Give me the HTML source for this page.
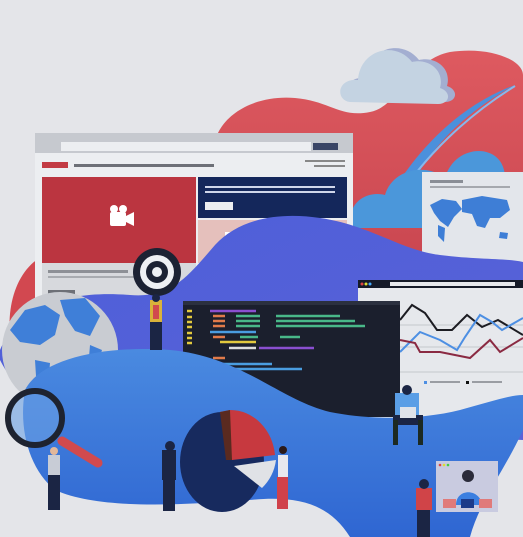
<!DOCTYPE html>
<html><head><style>html,body{margin:0;padding:0;background:#e4e5e9;}svg{display:block}</style></head><body>
<svg width="523" height="537" viewBox="0 0 523 537" xmlns="http://www.w3.org/2000/svg">
<defs>
<linearGradient id="bl" x1="0" y1="0" x2="1" y2="1"><stop offset="0" stop-color="#4d5fd9"/><stop offset="1" stop-color="#5a62d8"/></linearGradient>
<linearGradient id="bb" x1="0" y1="0" x2="0" y2="1"><stop offset="0" stop-color="#4a8ae0"/><stop offset="1" stop-color="#2f66d2"/></linearGradient>
<linearGradient id="rd" x1="0" y1="0" x2="0" y2="1"><stop offset="0" stop-color="#de5a60"/><stop offset="1" stop-color="#c94650"/></linearGradient>
</defs>
<rect width="523" height="537" fill="#e4e5e9"/>
<!-- red blob -->
<path d="M215 140 C225 110 260 95 295 98 C330 101 340 118 370 112 C400 106 410 60 450 52 C490 46 523 60 523 75 L523 270 L240 270 Z" fill="url(#rd)"/>
<path d="M45 255 C12 270 2 320 15 360 L60 360 L60 255 Z" fill="#d24850"/>
<!-- cloud -->
<g transform="translate(7,-2)"><path d="M350 102 C335 100 337 78 358 80 C360 50 395 40 412 62 C428 58 445 70 440 88 C452 92 450 104 438 104 Z" fill="#a3aed1"/></g>
<path d="M350 102 C335 100 337 78 358 80 C360 50 395 40 412 62 C428 58 445 70 440 88 C452 92 450 104 438 104 Z" fill="#c4d3e2"/>
<!-- swoosh -->
<path d="M385 205 C415 150 460 105 515 85 C465 112 425 150 402 205 Z" fill="#4b90dc"/>
<path d="M393 205 C425 155 468 115 515 86" stroke="#86b8ec" stroke-width="2" fill="none"/>
<!-- blue cloud -->
<path d="M352 228 C345 205 365 190 385 195 C392 170 425 162 445 178 C455 142 505 142 505 178 C520 182 523 200 523 228 Z" fill="#4b97da"/>
<!-- map panel -->
<rect x="422" y="172" width="101" height="90" fill="#e3e6eb"/>
<rect x="430" y="180" width="33" height="3" fill="#8a8e96"/><rect x="430" y="186" width="80" height="2" fill="#a5a8ae"/>
<path d="M430 205 l12 -6 14 2 6 8 -8 8 -6 10 -8 -6 -6 -8z M438 225 l7 3 -1 14 -6 -6z M462 200 l20 -4 25 4 3 10 -10 8 -10 0 -5 10 -8 -2 -5 -12 -10 -2z M500 232 l8 1 -1 6 -8 -1z" fill="#3e7ed6"/>
<!-- browser -->
<rect x="35" y="133" width="318" height="172" fill="#eceef1"/>
<rect x="35" y="133" width="318" height="20" fill="#c6c9cf"/>
<rect x="61" y="142" width="250" height="9" fill="#eceef1"/>
<rect x="313" y="143" width="25" height="7" fill="#3a4566"/>
<rect x="42" y="162" width="26" height="6" fill="#c23a43"/>
<rect x="74" y="164" width="140" height="3" fill="#6d7077"/>
<rect x="305" y="160" width="40" height="2" fill="#888"/><rect x="314" y="165" width="31" height="2" fill="#888"/>
<rect x="42" y="177" width="154" height="86" fill="#bb3540"/>
<rect x="110" y="212" width="16" height="14" rx="2" fill="#fff"/><path d="M126 216 l8 -4 v14 l-8 -4z" fill="#fff"/><circle cx="114" cy="209" r="4" fill="#fff"/><circle cx="123" cy="209" r="4" fill="#fff"/>
<rect x="42" y="263" width="154" height="42" fill="#d7d9dd"/>
<rect x="198" y="177" width="149" height="41" fill="#14275b"/>
<rect x="205" y="186" width="130" height="2" fill="#cfd6ea"/><rect x="205" y="191" width="130" height="2" fill="#cfd6ea"/><rect x="205" y="202" width="28" height="8" fill="#eceef1"/>
<rect x="198" y="220" width="74" height="43" fill="#e5c0bc"/>
<rect x="274" y="220" width="73" height="43" fill="#e5c0bc"/>
<rect x="226" y="233" width="22" height="17" fill="none" stroke="#fff" stroke-width="2"/>
<rect x="48" y="270" width="80" height="3" fill="#8d9096"/><rect x="48" y="276" width="120" height="2" fill="#a8abb0"/><rect x="48" y="290" width="27" height="8" fill="#6d7077"/>
<!-- purple-blue blob -->
<path d="M0 350 C20 305 70 290 130 295 C170 298 185 280 215 245 C240 218 280 212 320 218 C370 225 400 250 440 255 C480 260 505 258 523 262 L523 440 L300 430 L30 400 C15 385 5 370 0 360 Z" fill="url(#bl)"/>
<!-- chart panel -->
<path d="M358 280 H523 V400 C490 410 460 418 430 420 H358 Z" fill="#e6e8ec"/>
<rect x="358" y="280" width="165" height="8" fill="#151a28"/>
<rect x="390" y="282" width="125" height="4" fill="#e6e8ec"/>
<circle cx="362" cy="284" r="1.5" fill="#d44"/><circle cx="366" cy="284" r="1.5" fill="#dd3"/><circle cx="370" cy="284" r="1.5" fill="#4af"/>
<line x1="398" y1="325" x2="523" y2="325" stroke="#c4c7cd"/><line x1="398" y1="347" x2="523" y2="347" stroke="#c4c7cd"/><line x1="398" y1="372" x2="523" y2="372" stroke="#c4c7cd"/>
<polyline points="400,320 412,305 425,313 437,330 452,330 467,315 482,327 498,320 523,335" fill="none" stroke="#1c1c22" stroke-width="2"/>
<polyline points="400,352 420,332 440,340 457,350 465,337 480,315 492,322 502,330 523,318" fill="none" stroke="#4d8fe3" stroke-width="2"/>
<polyline points="400,340 415,343 420,352 440,352 470,358 490,340 500,352 523,338" fill="none" stroke="#8a2a42" stroke-width="2"/>
<rect x="424" y="381" width="3" height="3" fill="#4d8fe3"/><rect x="430" y="381" width="30" height="2" fill="#9a9da3"/><rect x="466" y="381" width="3" height="3" fill="#111"/><rect x="472" y="381" width="30" height="2" fill="#9a9da3"/>
<!-- code editor -->
<rect x="183" y="301" width="217" height="116" fill="#1b1f2d"/>
<rect x="183" y="301" width="217" height="4" fill="#2b303f"/>
<g stroke-width="2.5">
<line x1="210" y1="311" x2="256" y2="311" stroke="#8a4fd0"/>
<line x1="213" y1="316" x2="225" y2="316" stroke="#e07a4a"/><line x1="236" y1="316" x2="260" y2="316" stroke="#49b889"/><line x1="276" y1="316" x2="340" y2="316" stroke="#49b889"/>
<line x1="213" y1="321" x2="225" y2="321" stroke="#e07a4a"/><line x1="236" y1="321" x2="260" y2="321" stroke="#49b889"/><line x1="276" y1="321" x2="355" y2="321" stroke="#49b889"/>
<line x1="213" y1="326" x2="225" y2="326" stroke="#e07a4a"/><line x1="236" y1="326" x2="260" y2="326" stroke="#49b889"/><line x1="276" y1="326" x2="365" y2="326" stroke="#49b889"/>
<line x1="210" y1="332" x2="256" y2="332" stroke="#4a9de0"/>
<line x1="213" y1="337" x2="225" y2="337" stroke="#e07a4a"/><line x1="240" y1="337" x2="258" y2="337" stroke="#49b889"/><line x1="280" y1="337" x2="300" y2="337" stroke="#49b889"/>
<line x1="220" y1="342" x2="256" y2="342" stroke="#e3c93e"/>
<line x1="229" y1="348" x2="256" y2="348" stroke="#ddd"/><line x1="259" y1="348" x2="314" y2="348" stroke="#8a4fd0"/>
<line x1="213" y1="358" x2="225" y2="358" stroke="#e07a4a"/>
<line x1="213" y1="364" x2="272" y2="364" stroke="#4a9de0"/><line x1="218" y1="369" x2="302" y2="369" stroke="#4a9de0"/>
<line x1="187" y1="311" x2="192" y2="311" stroke="#e3c93e"/><line x1="187" y1="317" x2="192" y2="317" stroke="#e3c93e"/><line x1="187" y1="322" x2="192" y2="322" stroke="#e3c93e"/><line x1="187" y1="327" x2="192" y2="327" stroke="#e3c93e"/><line x1="187" y1="333" x2="192" y2="333" stroke="#e3c93e"/><line x1="187" y1="338" x2="192" y2="338" stroke="#e3c93e"/><line x1="187" y1="343" x2="192" y2="343" stroke="#e3c93e"/>
</g>
<!-- globe -->
<circle cx="60" cy="350" r="58" fill="#c9ccd2"/>
<path d="M10 330 l15 -20 20 -5 15 10 -5 20 -15 10 -20 -3z M60 300 l25 -2 15 18 -10 20 -15 -5 -10 -15z M35 360 l15 3 -2 25 -12 -12z M90 345 l12 5 -3 10 -10 -3z" fill="#3f7fd8"/>
<!-- big bottom blue -->
<path d="M25 390 C40 360 100 345 170 350 C240 356 280 400 330 412 C370 420 420 420 460 410 C490 402 510 395 523 395 L523 430 C505 470 480 500 470 537 L350 537 C330 505 300 495 250 500 C180 505 100 510 55 490 C30 470 18 430 25 390 Z" fill="url(#bb)"/>
<!-- magnifier -->
<circle cx="35" cy="418" r="27" fill="#6aa0e4" fill-opacity="0.6" stroke="#1e2330" stroke-width="6"/>
<line x1="62" y1="441" x2="98" y2="463" stroke="#d14a4e" stroke-width="9" stroke-linecap="round"/>
<!-- target -->
<circle cx="157" cy="272" r="24" fill="#1c2233"/><circle cx="157" cy="272" r="17" fill="#eef0f3"/><circle cx="157" cy="272" r="11" fill="#1c2233"/><circle cx="157" cy="272" r="5" fill="#eef0f3"/>
<!-- pie -->
<ellipse cx="222" cy="462" rx="42" ry="50" fill="#172a5e"/>
<path d="M220 412 L230 410 A45 50 0 0 1 275 455 L232 460 Z" fill="#c7393f"/>
<path d="M220 412 L230 410 L232 460 L226 460 Z" fill="#5a2a20"/>
<path d="M234 466 L276 460 A48 48 0 0 1 262 488 Z" fill="#e0e2e6"/>
<!-- people -->
<g fill="#1b2544">
<rect x="150" y="300" width="12" height="22" fill="#d9b23a"/><rect x="153" y="305" width="6" height="14" fill="#d14a4e"/><rect x="150" y="322" width="12" height="28"/><circle cx="156" cy="298" r="4"/>
<rect x="48" y="455" width="12" height="20" fill="#c8ccd6"/><rect x="48" y="475" width="12" height="35"/><circle cx="54" cy="451" r="4" fill="#e2b79a"/>
<rect x="162" y="450" width="14" height="30"/><rect x="163" y="480" width="12" height="31"/><circle cx="170" cy="446" r="5"/>
<rect x="278" y="455" width="10" height="22" fill="#e8e8ee"/><rect x="277" y="477" width="11" height="32" fill="#d0414a"/><circle cx="283" cy="450" r="4" fill="#2b1a1a"/>
<rect x="395" y="393" width="24" height="22" fill="#5a9ee6"/><rect x="393" y="415" width="30" height="10"/><rect x="393" y="420" width="5" height="25" fill="#1c2a22"/><rect x="418" y="420" width="5" height="25" fill="#1c2a22"/><circle cx="407" cy="390" r="5"/>
<rect x="416" y="488" width="16" height="22" fill="#d04448"/><rect x="417" y="510" width="13" height="27"/><circle cx="424" cy="484" r="5"/>
</g>
<rect x="400" y="407" width="16" height="11" fill="#dfe3ea"/>
<!-- video panel -->
<rect x="436" y="461" width="62" height="51" fill="#c9cbe0"/>
<circle cx="440" cy="465" r="1.3" fill="#d44"/><circle cx="444" cy="465" r="1.3" fill="#dd3"/><circle cx="448" cy="465" r="1.3" fill="#4c4"/>
<circle cx="468" cy="476" r="6" fill="#2b2b3a"/><path d="M456 505 C456 488 480 488 482 505Z" fill="#3b7fe0"/>
<rect x="443" y="499" width="13" height="9" fill="#e07a7a"/><rect x="461" y="499" width="13" height="9" fill="#1c3b8a"/><rect x="479" y="499" width="13" height="9" fill="#e07a7a"/>
</svg>
</body></html>
